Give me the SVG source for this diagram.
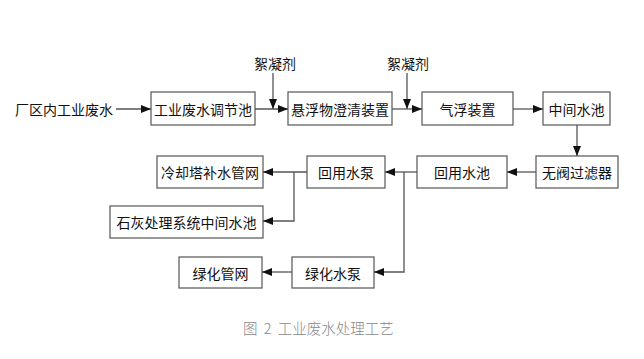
<svg xmlns="http://www.w3.org/2000/svg" width="644" height="359" viewBox="0 0 644 359">
<style>
.box rect{fill:#fff;stroke:#555;stroke-width:1.2}
.box text,.lbl{font-family:"Noto Sans CJK SC","Noto Sans",sans-serif;font-size:14px;fill:#111;text-anchor:middle;dominant-baseline:central}
.conn path{fill:none;stroke:#555;stroke-width:1.3;marker-end:url(#ah)}
.cap{font-family:"Noto Sans CJK SC","Noto Sans",sans-serif;font-size:14.5px;fill:#888;font-weight:300;word-spacing:3px}
</style>
<defs>
<marker id="ah" viewBox="0 0 10 8" refX="10" refY="4" markerWidth="10" markerHeight="8" markerUnits="userSpaceOnUse" orient="auto">
<path d="M0,0 L10,4 L0,8 Z" fill="#111"/>
</marker>
</defs>
<rect width="644" height="359" fill="#fff"/>
<text class="lbl" x="64" y="109">厂区内工业废水</text>
<text class="lbl" x="275" y="63">絮凝剂</text>
<text class="lbl" x="408" y="63">絮凝剂</text>
<g id="n1" class="box"><rect x="151" y="92" width="104" height="33"/><text x="203" y="108.5">工业废水调节池</text></g>
<g id="n2" class="box"><rect x="288" y="92" width="104" height="33"/><text x="340" y="108.5">悬浮物澄清装置</text></g>
<g id="n3" class="box"><rect x="422" y="92" width="91" height="33"/><text x="467.5" y="108.5">气浮装置</text></g>
<g id="n4" class="box"><rect x="543" y="92" width="67" height="33"/><text x="576.5" y="108.5">中间水池</text></g>
<g id="n5" class="box"><rect x="536" y="156" width="82" height="32"/><text x="577" y="172">无阀过滤器</text></g>
<g id="n6" class="box"><rect x="417" y="156" width="90" height="32"/><text x="462" y="172">回用水池</text></g>
<g id="n7" class="box"><rect x="307" y="156" width="78" height="32"/><text x="346" y="172">回用水泵</text></g>
<g id="n8" class="box"><rect x="157" y="156" width="106" height="32"/><text x="210" y="172">冷却塔补水管网</text></g>
<g id="n9" class="box"><rect x="110" y="206" width="153" height="32"/><text x="186.5" y="222">石灰处理系统中间水池</text></g>
<g id="n10" class="box"><rect x="292" y="257" width="82" height="31"/><text x="333" y="272.5">绿化水泵</text></g>
<g id="n11" class="box"><rect x="179" y="257" width="83" height="31"/><text x="220.5" y="272.5">绿化管网</text></g>
<g id="connectors" class="conn">
<path d="M116,109 H151"/>
<path d="M255,109 H288"/>
<path d="M273,73 V109"/>
<path d="M392,109 H422"/>
<path d="M407,73 V109"/>
<path d="M513,109 H543"/>
<path d="M577,125 V156"/>
<path d="M536,172 H507"/>
<path d="M417,172 H385"/>
<path d="M404,172 V272 H374"/>
<path d="M307,172 H263"/>
<path d="M294,172 V221 H263"/>
<path d="M292,272 H262"/>
</g>
<text class="cap" x="243" y="334">图 2 工业废水处理工艺</text>
</svg>
